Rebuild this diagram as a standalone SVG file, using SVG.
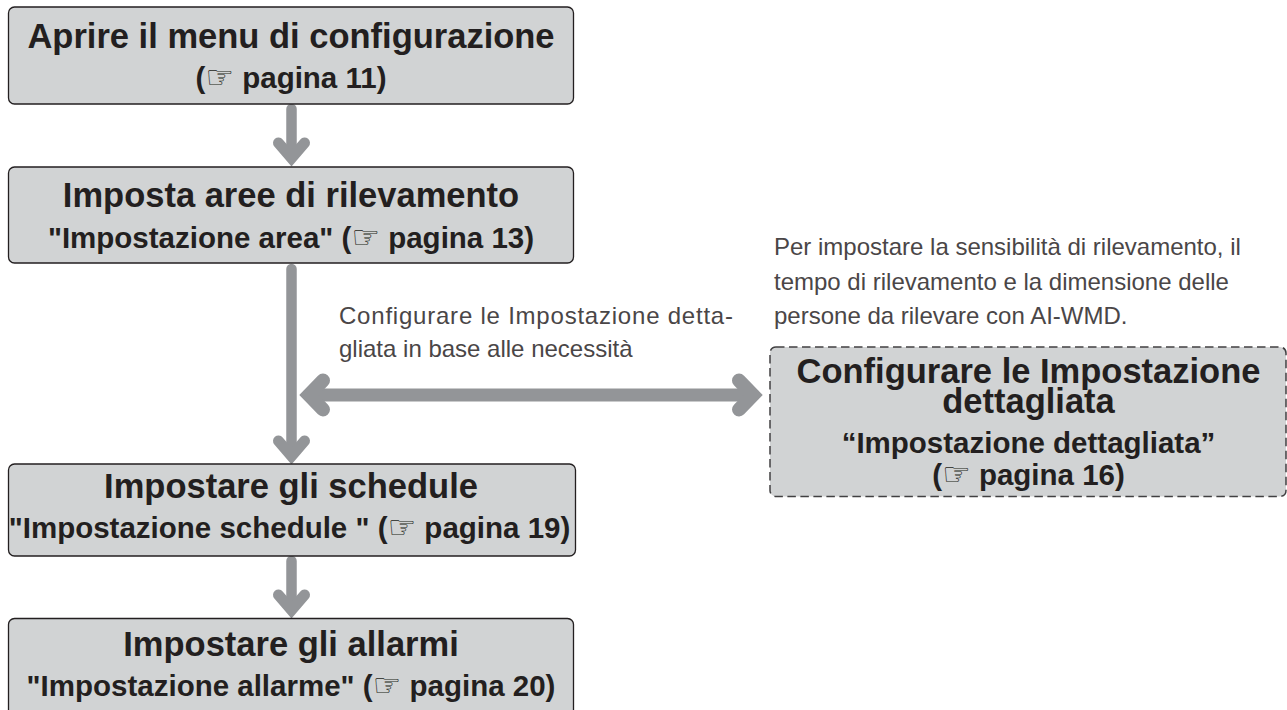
<svg xmlns="http://www.w3.org/2000/svg" width="1287" height="710" viewBox="0 0 1287 710">
<style>
.box{fill:#d1d3d4;stroke:#231f20;stroke-width:1.3}
.dash{fill:#d1d3d4;stroke:#414042;stroke-width:1.5;stroke-dasharray:8.500 4.500}
text{font-family:"Liberation Sans",Arial,sans-serif;fill:#231f20}
.h{font-size:34.500px;font-weight:700;text-anchor:middle}
.s{font-size:29.500px;font-weight:700;text-anchor:middle}
.p{font-family:"Liberation Sans",Arial,sans-serif;font-size:24px;fill:#4a4647}
.i{font-family:"DejaVu Sans",sans-serif;font-weight:400;font-size:32px}
.c{fill:none;stroke:#939598;stroke-linecap:round}
</style>
<defs>
<marker id="hv" markerUnits="userSpaceOnUse" markerWidth="60" markerHeight="60" refX="0" refY="0" orient="auto" overflow="visible"><path d="M-13,-13 L2,0 L-13,13" fill="none" stroke="#939598" stroke-width="11" stroke-linecap="round" stroke-linejoin="miter"/></marker>
<marker id="hh" markerUnits="userSpaceOnUse" markerWidth="60" markerHeight="60" refX="0" refY="0" orient="auto-start-reverse" overflow="visible"><path d="M-14,-14.500 L0,0 L-14,14.500" fill="none" stroke="#939598" stroke-width="14" stroke-linecap="round" stroke-linejoin="miter"/></marker>
</defs>
<g id="connectors">
<path class="c" stroke-width="10.500" d="M291.500 109V156" marker-end="url(#hv)"/>
<path class="c" stroke-width="10.500" d="M291.500 269V454" marker-end="url(#hv)"/>
<path class="c" stroke-width="10.500" d="M291.500 561V608" marker-end="url(#hv)"/>
<path class="c" stroke-width="13" d="M309 395H753" marker-start="url(#hh)" marker-end="url(#hh)"/>
</g>
<g id="node-menu">
<rect class="box" x="8.500" y="7" width="565" height="97" rx="6"/>
<text class="h" x="291" y="48">Aprire il menu di configurazione</text>
<text class="s" x="291" y="88">(<tspan class="i">☞</tspan> pagina 11)</text>
</g>
<g id="node-aree">
<rect class="box" x="8.500" y="167" width="565" height="96" rx="6"/>
<text class="h" x="291" y="207">Imposta aree di rilevamento</text>
<text class="s" x="291" y="248">"Impostazione area" (<tspan class="i">☞</tspan> pagina 13)</text>
</g>
<g id="node-schedule">
<rect class="box" x="8.500" y="464" width="567" height="92" rx="6"/>
<text class="h" x="291" y="498">Impostare gli schedule</text>
<text class="s" x="289.500" y="538">"Impostazione schedule " (<tspan class="i">☞</tspan> pagina 19)</text>
</g>
<g id="node-allarmi">
<rect class="box" x="8.500" y="618.500" width="565" height="100" rx="6"/>
<text class="h" x="291" y="656">Impostare gli allarmi</text>
<text class="s" x="291" y="696">"Impostazione allarme" (<tspan class="i">☞</tspan> pagina 20)</text>
</g>
<g id="node-dettagliata">
<rect class="dash" x="770" y="347" width="516" height="149.500" rx="6"/>
<text class="h" x="1028.500" y="382.500">Configurare le Impostazione</text>
<text class="h" x="1028.500" y="412.500">dettagliata</text>
<text class="s" x="1028.500" y="452.500">“Impostazione dettagliata”</text>
<text class="s" x="1028.500" y="485">(<tspan class="i">☞</tspan> pagina 16)</text>
</g>
<g id="note-sinistra">
<text class="p" x="339" y="324" textLength="394" lengthAdjust="spacing">Configurare le Impostazione detta-</text>
<text class="p" x="339" y="357">gliata in base alle necessità</text>
</g>
<g id="note-destra">
<text class="p" x="774" y="255">Per impostare la sensibilità di rilevamento, il</text>
<text class="p" x="774" y="289.500">tempo di rilevamento e la dimensione delle</text>
<text class="p" x="774" y="324">persone da rilevare con AI-WMD.</text>
</g>
</svg>
